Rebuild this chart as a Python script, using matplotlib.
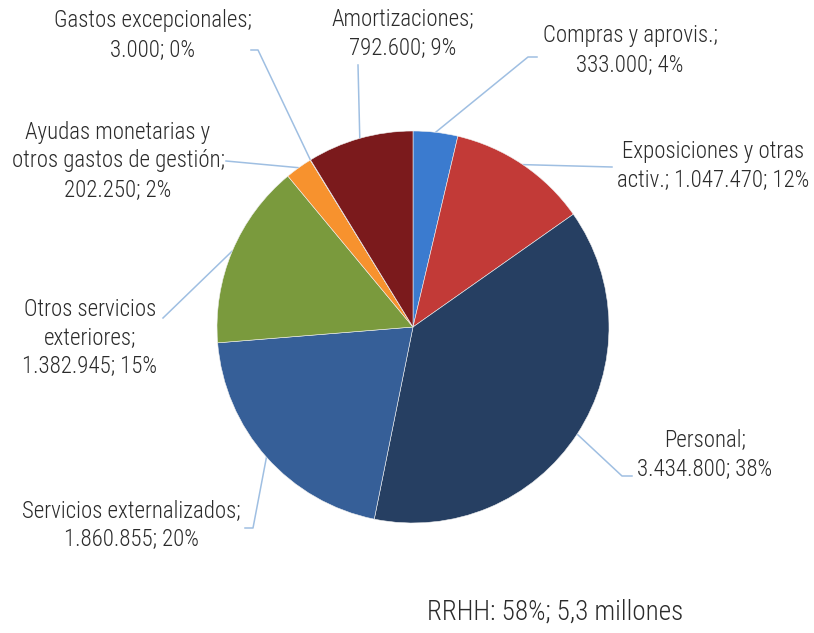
import numpy as np
import matplotlib
matplotlib.use("Agg")
import matplotlib.pyplot as plt

W, H = 814, 633
plt.rcParams["font.family"] = ["Roboto Condensed", "Fira Sans Condensed", "DejaVu Sans"]
plt.rcParams["font.weight"] = "light"

categorias = ["Compras y aprovis.", "Exposiciones y otras\nactiv.", "Personal",
              "Servicios externalizados", "Otros servicios\nexteriores",
              "Ayudas monetarias y\notros gastos de gestión", "Gastos excepcionales",
              "Amortizaciones"]
importes = [333000, 1047470, 3434800, 1860855, 1382945, 202250, 3000, 792600]
etiquetas = ["Compras y aprovis.;\n333.000; 4%",
             "Exposiciones y otras\nactiv.; 1.047.470; 12%",
             "Personal;\n3.434.800; 38%",
             "Servicios externalizados;\n1.860.855; 20%",
             "Otros servicios\nexteriores;\n1.382.945; 15%",
             "Ayudas monetarias y\notros gastos de gestión;\n202.250; 2%",
             "Gastos excepcionales;\n3.000; 0%",
             "Amortizaciones;\n792.600; 9%"]
colores = ["#3b7bcf", "#c23a37", "#263f62", "#365f98", "#7a9a3d", "#f7922e", "#7d5fa6", "#7b1a1c"]

# layout (pixels, y from top): label centre, leader-line bends
pos_txt = [(630, 50), (713, 166), (705, 454), (131, 525), (90, 338), (118, 161), (153, 35), (403, 33)]
codos = [[(528, 57), (537, 57)], [(612, 167)], [(622, 476), (632, 476)], [(253, 528), (245, 528)],
         [(163, 318)], [(226, 161)], [(258, 50), (251, 50)], [(358, 65)]]

cx, cy, R = 413, 327, 196

fig = plt.figure(figsize=(W / 100, H / 100), dpi=100)
ax = fig.add_axes([0, 0, 1, 1])
wedges, _ = ax.pie(importes, colors=colores, startangle=90, counterclock=False,
                   center=(cx, H - cy), radius=R, frame=True,
                   wedgeprops=dict(linewidth=0.4, edgecolor="#f0f0f0"))
ax.set_xlim(0, W)
ax.set_ylim(0, H)
ax.set_aspect("equal")
ax.axis("off")

for w, txt, (tx, ty), pts in zip(wedges, etiquetas, pos_txt, codos):
    ang = np.deg2rad((w.theta1 + w.theta2) / 2)
    x0 = cx + R * np.cos(ang)
    y0 = (H - cy) + R * np.sin(ang)
    xs = [x0] + [p[0] for p in pts]
    ys = [y0] + [H - p[1] for p in pts]
    ax.plot(xs, ys, color="#9fbfe2", lw=1.1, zorder=0)
    ax.text(tx, H - ty, txt, ha="center", va="center", fontsize=16.5,
            color="#2b2b2b", linespacing=1.33)

ax.text(555, H - 612, "RRHH: 58%; 5,3 millones", ha="center", va="center",
        fontsize=19.5, color="#2b2b2b")

fig.savefig("out.png", dpi=100)
